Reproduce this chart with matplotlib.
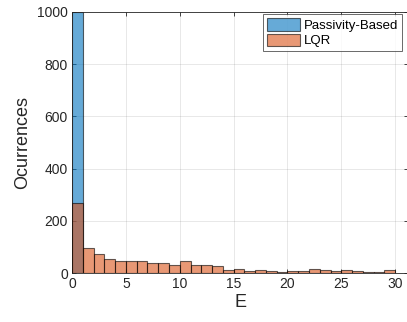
import matplotlib
matplotlib.use("Agg")
import matplotlib.pyplot as plt
import numpy as np

plt.rcParams['font.family'] = ['Liberation Sans', 'DejaVu Sans']

bin_edges = list(range(0, 31))
passivity_counts = [1000] + [0] * 29
lqr_counts = [270, 95, 74, 52, 46, 45, 47, 40, 37, 32,
              47, 31, 30, 28, 13, 14, 8, 11, 9, 5,
              8, 6, 14, 10, 6, 13, 9, 5, 3, 10]

blue = (0.0, 0.447, 0.741)
orange = (0.85, 0.325, 0.098)

fig = plt.figure(figsize=(4.07, 3.22), dpi=100)
ax = fig.add_axes([0.177, 0.152, 0.8256, 0.811])

edges = np.array(bin_edges)
ax.bar(edges[:-1], passivity_counts, width=1, align='edge', color=blue, alpha=0.6,
       edgecolor=(0, 0, 0, 0.6), linewidth=0.8, label='Passivity-Based', zorder=2)
ax.bar(edges[:-1], lqr_counts, width=1, align='edge', color=orange, alpha=0.6,
       edgecolor=(0, 0, 0, 0.6), linewidth=0.8, label='LQR', zorder=3)

ax.set_xlim(0, 31.2)
ax.set_ylim(0, 1000)
ax.set_xticks([0, 5, 10, 15, 20, 25, 30])
ax.set_yticks([0, 200, 400, 600, 800, 1000])
ax.grid(True, color=(0.15, 0.15, 0.15), alpha=0.12, linewidth=0.6, zorder=0)
ax.set_axisbelow(True)
ax.tick_params(direction='in', length=3, width=0.6, labelsize=10, colors=(0.15, 0.15, 0.15),
               top=True, right=True, pad=3)
for s in ax.spines.values():
    s.set_color((0.15, 0.15, 0.15))
    s.set_linewidth(0.6)
ax.set_xlabel('E', fontsize=13, color=(0.15, 0.15, 0.15), labelpad=2)
ax.set_ylabel('Ocurrences', fontsize=13, color=(0.15, 0.15, 0.15), labelpad=4)

leg = ax.legend(loc='upper right', bbox_to_anchor=(404 / 407, 0.963), bbox_transform=fig.transFigure,
                fontsize=9.5, frameon=True, fancybox=False,
                borderaxespad=0.15, handlelength=2.5, handleheight=1.1,
                handletextpad=0.3, borderpad=0.3, labelspacing=0.15)
leg.get_frame().set_edgecolor((0.15, 0.15, 0.15))
leg.get_frame().set_linewidth(0.6)

fig.savefig('out.png', dpi=100)
